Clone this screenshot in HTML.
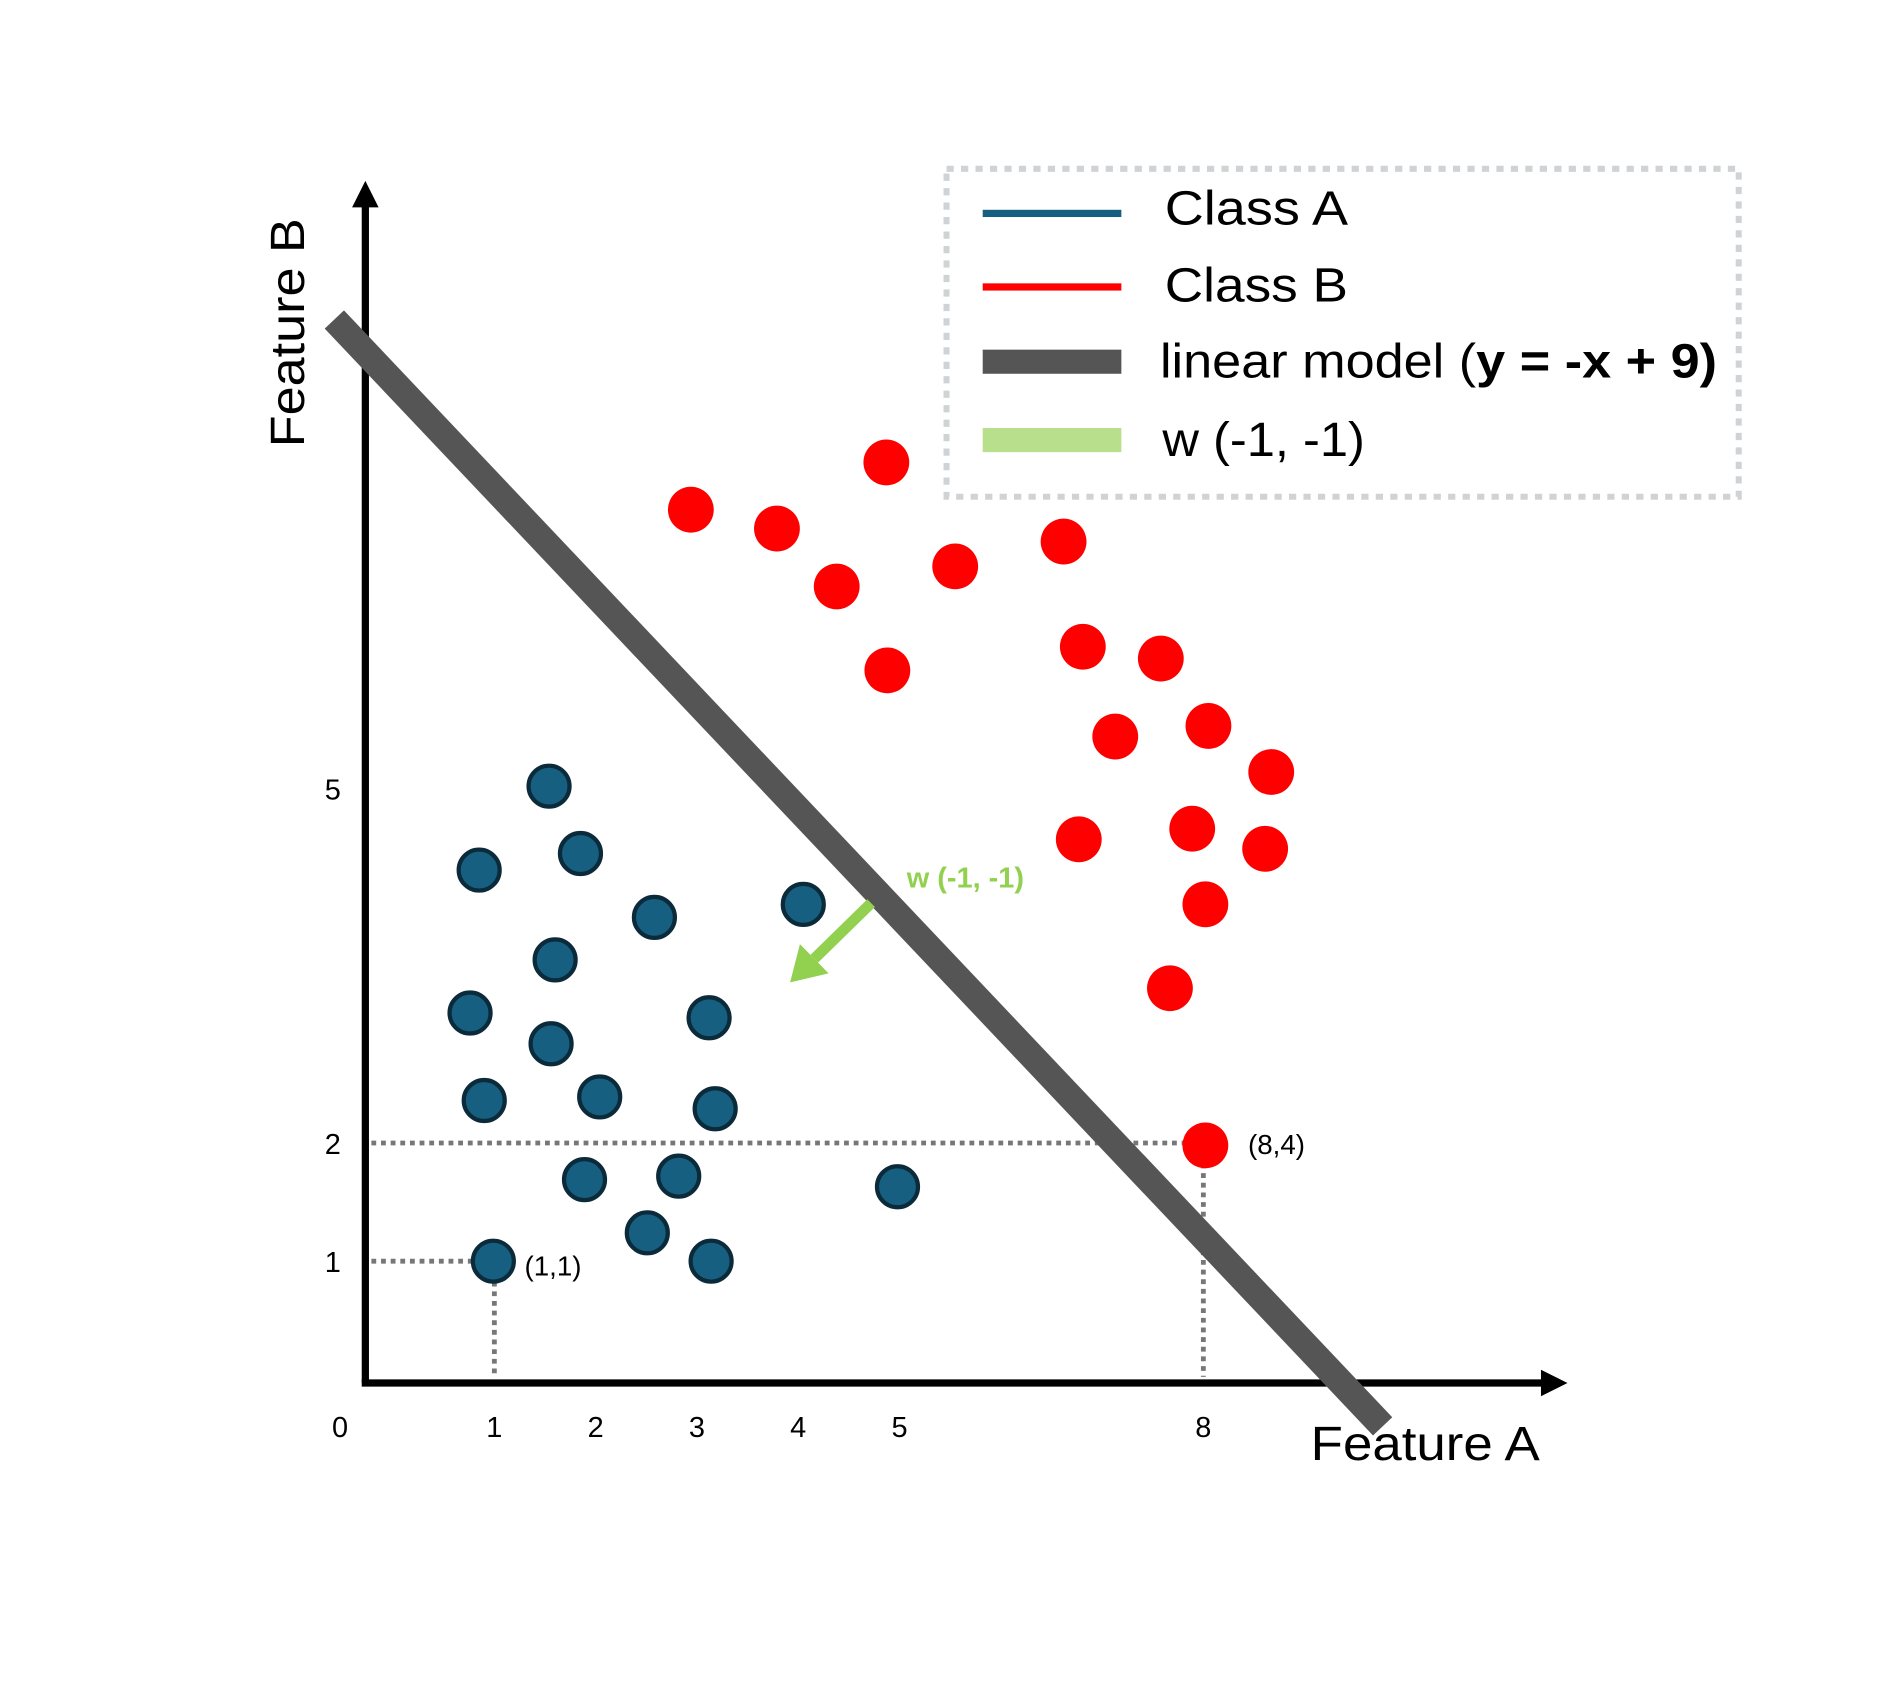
<!DOCTYPE html>
<html><head><meta charset="utf-8"><style>
html,body{margin:0;padding:0;background:#fff;}
svg{display:block;font-family:"Liberation Sans",sans-serif;}
</style></head><body>
<svg id="chart" width="1881" height="1688" viewBox="0 0 1560 1400" preserveAspectRatio="none" xmlns="http://www.w3.org/2000/svg">
<rect width="1560" height="1400" fill="#fff"/>
<g id="legend">
<rect x="785" y="140" width="657" height="272" fill="none" stroke="#d0d3d6" stroke-width="5" stroke-dasharray="6 6"/>
<rect x="815" y="174" width="115" height="6" fill="#175f80"/>
<text x="966" y="186" font-size="40" textLength="152" lengthAdjust="spacingAndGlyphs">Class A</text>
<rect x="815" y="235" width="115" height="6" fill="#ff0000"/>
<text x="966" y="250" font-size="40" textLength="152" lengthAdjust="spacingAndGlyphs">Class B</text>
<rect x="815" y="290" width="115" height="20" fill="#555"/>
<text x="962" y="313" font-size="40" textLength="462" lengthAdjust="spacingAndGlyphs">linear model (<tspan font-weight="bold">y = -x + 9)</tspan></text>
<rect x="815" y="355" width="115" height="20" fill="#b8e08c"/>
<text x="964" y="378" font-size="40" textLength="168" lengthAdjust="spacingAndGlyphs">w (-1, -1)</text>
</g>
<g id="plot"></g>
</svg>
<script>
const xTicks = [0, 1, 2, 3, 4, 5, 8];
const yTicks = [1, 2, 5];
const classAx = [1.54, 0.85, 1.85, 2.58, 4.05, 1.6, 0.76, 3.12, 1.56, 0.9, 2.04, 3.18, 1.89, 2.82, 4.98, 2.51, 0.99, 3.14];
const classAy = [5.02, 4.31, 4.45, 3.91, 4.02, 3.55, 3.1, 3.06, 2.84, 2.36, 2.39, 2.29, 1.69, 1.72, 1.63, 1.24, 1.0, 1.0];
const classBx = [2.94, 3.79, 4.87, 4.38, 5.55, 6.62, 4.88, 6.81, 7.58, 7.13, 8.05, 8.67, 6.77, 7.89, 8.61, 8.02, 7.67, 8.02];
const classBy = [7.36, 7.2, 7.76, 6.71, 6.88, 7.09, 6.0, 6.2, 6.1, 5.44, 5.53, 5.14, 4.57, 4.66, 4.49, 4.02, 3.31, 1.98];
const modelLine = [-0.58, 9.77];
const wStart = [4.72, 4.03], wEnd = [3.92, 3.36];

const X = v => 326 + 84 * v;
const Y = v => 1144 - 98 * v;
const NS = 'http://www.w3.org/2000/svg';
const plot = document.getElementById('plot');
function mk(tag, attrs, parent) {
  const el = document.createElementNS(NS, tag);
  for (const k in attrs) el.setAttribute(k, attrs[k]);
  (parent || plot).appendChild(el);
  return el;
}
let g = mk('line', {x1: 308, y1: Y(2), x2: X(8) - 15, y2: Y(2), stroke: '#777', 'stroke-width': 4, 'stroke-dasharray': '4 4'});


g = mk('line', {x1: X(8), y1: Y(2) + 17, x2: X(8), y2: 1142, stroke: '#777', 'stroke-width': 4, 'stroke-dasharray': '4 4'});


g = mk('line', {x1: 308, y1: Y(1), x2: X(1) - 17, y2: Y(1), stroke: '#777', 'stroke-width': 4, 'stroke-dasharray': '4 4'});


g = mk('line', {x1: X(1), y1: Y(1) + 17, x2: X(1), y2: 1142, stroke: '#777', 'stroke-width': 4, 'stroke-dasharray': '4 4'});



let ax = mk('line', {x1: 303, y1: 1147, x2: 303, y2: 165, stroke: '#000', 'stroke-width': 6});


ax = mk('polygon', {points: '292,172 303,150 314,172', fill: '#000'});


ax = mk('line', {x1: 300, y1: 1147, x2: 1285, y2: 1147, stroke: '#000', 'stroke-width': 6});


ax = mk('polygon', {points: '1278,1136 1300,1147 1278,1158', fill: '#000'});



xTicks.forEach(v => {
  const t = mk('text', {x: X(v) + (v === 0 ? -44 : 0), y: 1192, 'font-size': 24, 'text-anchor': 'middle'});
  t.textContent = v;
  
  
});
yTicks.forEach(v => {
  const t = mk('text', {x: 276, y: Y(v) + 9, 'font-size': 24, 'text-anchor': 'middle'});
  t.textContent = v;
  
  
});

const ml = mk('line', {x1: X(modelLine[0]), y1: 265, x2: X(modelLine[1]), y2: 1183, stroke: '#555', 'stroke-width': 22});



classAx.forEach((v, i) => {
  const c = mk('circle', {cx: X(v), cy: Y(classAy[i]), r: 17, fill: '#175f80', stroke: '#0b2a3a', 'stroke-width': 3.5});
  
  
});
classBx.forEach((v, i) => {
  const c = mk('circle', {cx: X(v), cy: Y(classBy[i]), r: 19, fill: '#ff0000'});
  
  
});

const ax1 = X(wStart[0]), ay1 = Y(wStart[1]), ax2 = X(wEnd[0]), ay2 = Y(wEnd[1]);
const dx = ax2 - ax1, dy = ay2 - ay1, L = Math.hypot(dx, dy), ux = dx / L, uy = dy / L;
const bx = ax2 - ux * 28, by = ay2 - uy * 28;
const wl = mk('line', {x1: ax1, y1: ay1, x2: bx, y2: by, stroke: '#92d050', 'stroke-width': 9});


const wh = mk('polygon', {points: `${ax2},${ay2} ${bx - uy * 17},${by + ux * 17} ${bx + uy * 17},${by - ux * 17}`, fill: '#92d050'});



let t = mk('text', {x: 752, y: 736, 'font-size': 24, 'font-weight': 'bold', fill: '#92d050'});
t.textContent = 'w (-1, -1)';


t = mk('text', {x: 435, y: 1058, 'font-size': 23});
t.textContent = '(1,1)';


t = mk('text', {x: 1035, y: 957, 'font-size': 23});
t.textContent = '(8,4)';


t = mk('text', {x: 1087, y: 1211, 'font-size': 40, textLength: 190, lengthAdjust: 'spacingAndGlyphs'});
t.textContent = 'Feature A';


t = mk('text', {x: 0, y: 0, 'font-size': 40, 'text-anchor': 'middle', transform: 'translate(252,276) rotate(-90)', textLength: 190, lengthAdjust: 'spacingAndGlyphs'});
t.textContent = 'Feature B';


</script>
</body></html>
